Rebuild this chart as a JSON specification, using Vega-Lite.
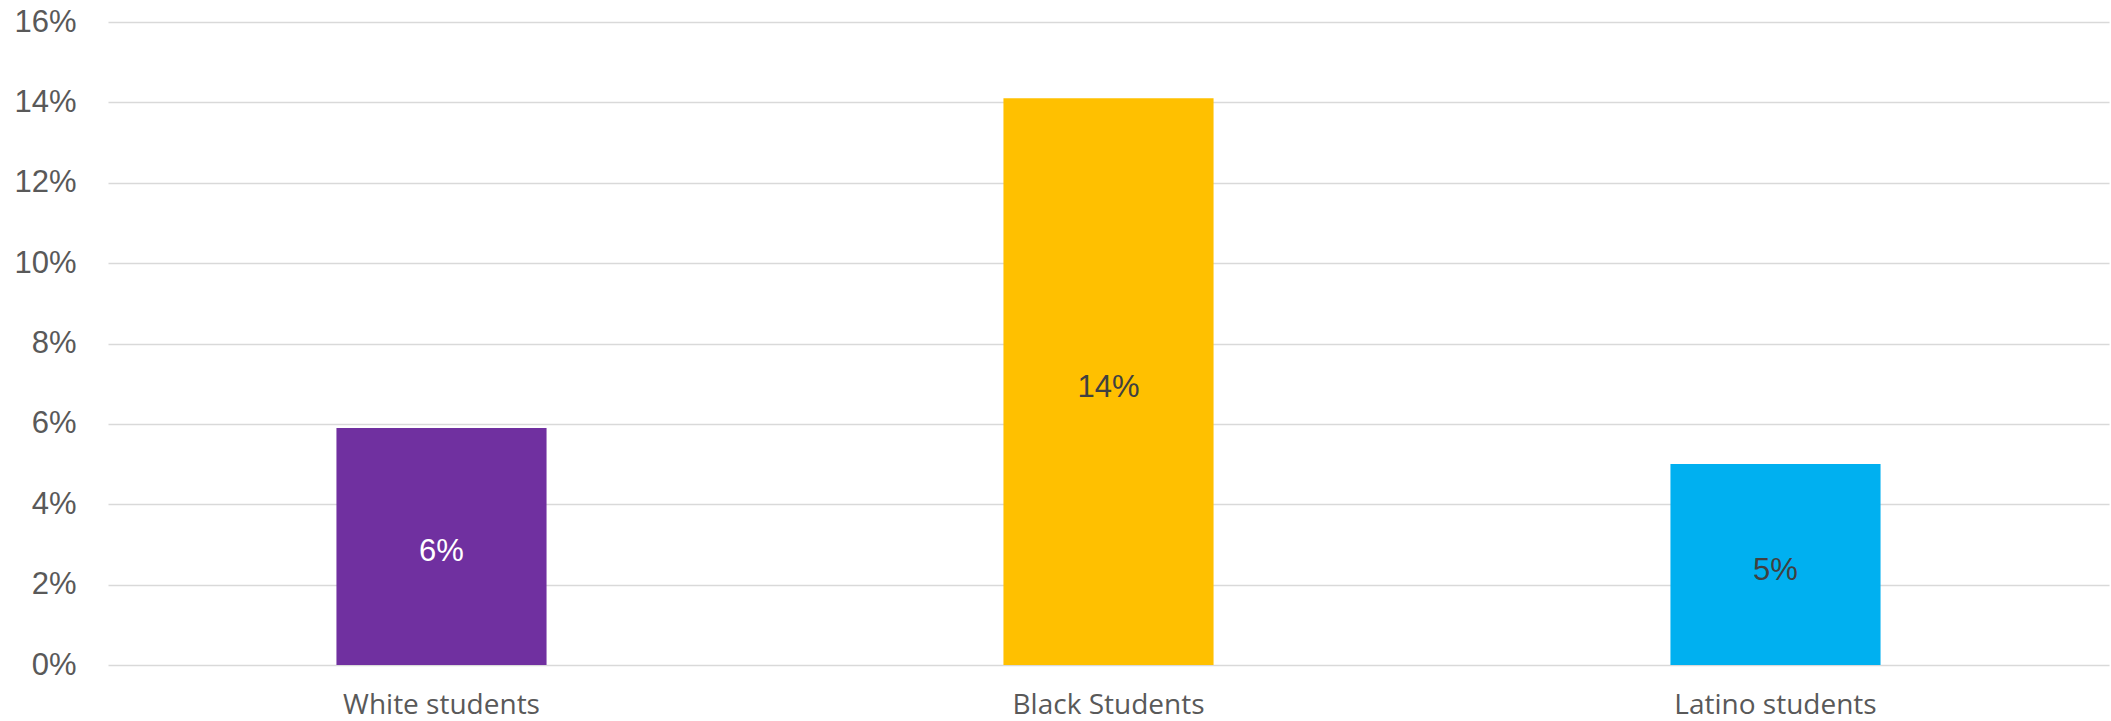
{
  "$schema": "https://vega.github.io/schema/vega-lite/v6.json",
  "autosize": "none",
  "width": 2001,
  "height": 643,
  "padding": {"left": 108, "top": 22, "right": 2, "bottom": 56},
  "background": "white",
  "config": {"view": {"stroke": null}},
  "data": {"values": [
    {"group": "White students", "value": 0.059},
    {"group": "Black Students", "value": 0.141},
    {"group": "Latino students", "value": 0.050}
  ]},
  "encoding": {
    "x": {"field": "group", "type": "nominal", "sort": null,
      "scale": {"paddingInner": 0.685, "paddingOuter": 0.3425},
      "axis": {"title": null, "labelAngle": 0, "domain": false, "ticks": false, "grid": false, "labelLimit": 0,
        "labelFont": "Open Sans", "labelFontSize": 28, "labelColor": "#595959", "labelPadding": 26}}
  },
  "layer": [
    {
      "mark": {"type": "bar"},
      "encoding": {
        "y": {"field": "value", "type": "quantitative",
          "scale": {"domain": [0, 0.16], "nice": false},
          "axis": {"title": null, "format": ".0%", "values": [0,0.02,0.04,0.06,0.08,0.10,0.12,0.14,0.16],
            "domain": false, "ticks": false, "tickSize": 0, "labelPadding": 32,
            "labelFont": "Liberation Sans", "labelFontSize": 31, "labelColor": "#595959",
            "gridColor": "#d9d9d9", "gridWidth": 1.5}},
        "color": {"field": "group", "type": "nominal", "legend": null,
          "scale": {"domain": ["White students", "Black Students", "Latino students"],
                    "range": ["#7030A0", "#FFC000", "#00B0F0"]}}
      }
    },
    {
      "mark": {"type": "text", "font": "Liberation Sans", "fontSize": 31, "baseline": "middle", "align": "center", "dy": 6},
      "encoding": {
        "y": {"field": "value", "type": "quantitative",
          "scale": {"domain": [0, 0.32], "nice": false}, "axis": null},
        "text": {"field": "value", "type": "quantitative", "format": ".0%"},
        "color": {"field": "group", "type": "nominal", "legend": null,
          "scale": {"domain": ["White students", "Black Students", "Latino students"],
                    "range": ["#ffffff", "#404040", "#404040"]}}
      }
    }
  ],
  "resolve": {"scale": {"color": "independent", "y": "independent"}}
}
